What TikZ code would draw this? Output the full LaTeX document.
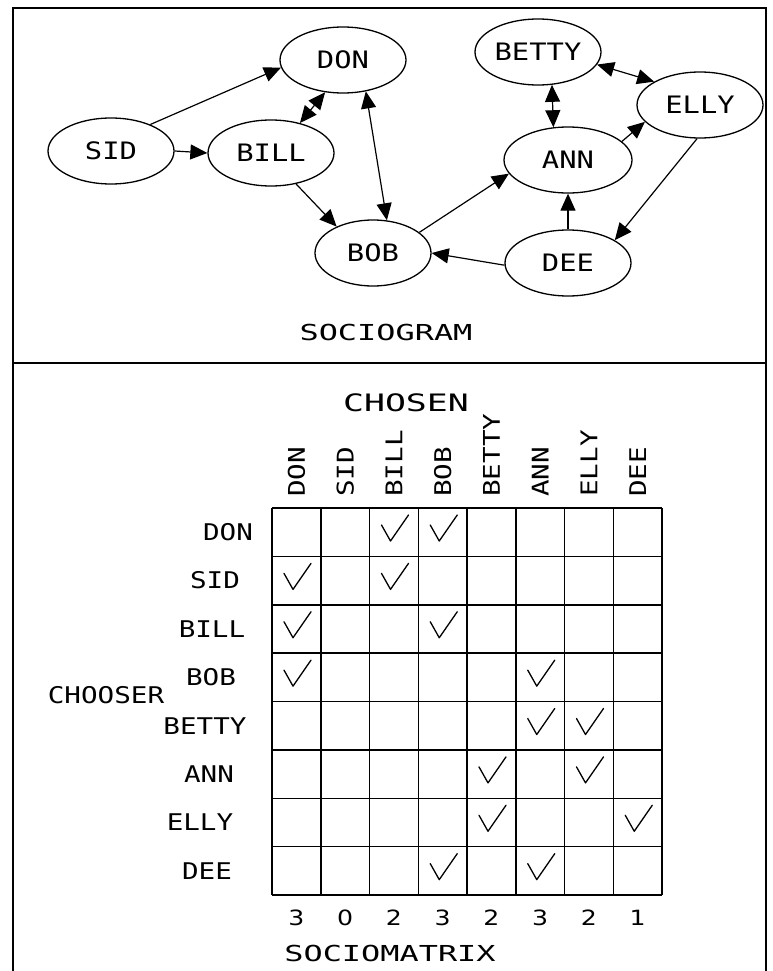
\documentclass[tikz,border=0pt]{standalone}
\usepackage{fontspec}
\usetikzlibrary{arrows.meta,shapes.geometric}
\newfontfamily\hand[FakeStretch=1.2]{DejaVu Sans Mono}
\newfontfamily\handw[FakeStretch=1.45]{DejaVu Sans Mono}
\newfontfamily\digits[FakeStretch=1.2]{DejaVu Sans}
\begin{document}
\begin{tikzpicture}[x=1pt,y=-1pt,
  >={Triangle[length=17pt,width=15pt]},
  person/.style={ellipse,draw,line width=1.3pt,minimum width=126pt,minimum height=66pt,inner sep=0pt,
    font=\hand\fontsize{24}{26}\selectfont},
  edge/.style={line width=1.2pt},
  frame/.style={line width=2pt},
  gridline/.style={line width=1.5pt},
  tick/.style={line width=1.3pt,line cap=round,line join=round},
  title/.style={inner sep=0pt,font=\handw\fontsize{22}{24}\selectfont},
  lab/.style={inner sep=0pt,font=\hand\fontsize{23}{25}\selectfont},
  num/.style={inner sep=0pt,font=\digits\fontsize{21}{23}\selectfont}]
\useasboundingbox (0,0) rectangle (772,971);
% frame
\draw[frame] (13,971) -- (13,8) -- (766,8) -- (766,971);
\draw[gridline] (13,363) -- (766,363);
% sociogram
\node[person] (don) at (343,60) {DON};
\node[person] (sid) at (111,151) {SID};
\node[person] (bill) at (271,153) {BILL};
\node[person,minimum width=116pt] (bob) at (373,253) {BOB};
\node[person] (betty) at (538,52) {BETTY};
\node[person] (elly) at (700,105) {ELLY};
\node[person,minimum width=128pt] (ann) at (568,160) {ANN};
\node[person] (dee) at (568,263) {DEE};
\draw[edge,->] (sid.34) -- (don.187);
\draw[edge,->] (sid.east) -- (bill.west);
\draw[edge,<->] (bill.46) -- (don.241);
\draw[edge,<->] (don.306) -- (bob.67);
\draw[edge,->] (bill.309) -- (bob.144);
\draw[edge,->] (bob.24) -- (ann.193);
\draw[edge,->] (dee.182) -- (bob.0);
\draw[edge,->] (dee.north) -- (ann.south);
\draw[edge,->] (elly.265) -- (dee.26);
\draw[edge,->] (ann.19) -- (elly.197);
\draw[edge,<->] (betty.293) -- (ann.114);
\draw[edge,<->] (betty.348) -- (elly.153);
\node[title] (sgram) at (386,332) {SOCIOGRAM};
% sociomatrix
\node[title,font=\handw\fontsize{24}{26}\selectfont] (chosen) at (406,403) {CHOSEN};
\node[lab] (chooser) at (106,695) {CHOOSER};
\foreach \i in {0,...,8}{
  \draw[gridline] ({272+48.75*\i},508) -- ({272+48.75*\i},895);
  \draw[gridline] (272,{508+48.375*\i}) -- (662,{508+48.375*\i});
}
\foreach \n [count=\c] in {DON,SID,BILL,BOB,BETTY,ANN,ELLY,DEE}{
  \node[lab,rotate=90,anchor=west] (col\c) at ({272+48.75*(\c-0.5)},497) {\n};
}
\foreach \n/\xx [count=\r] in {DON/228,SID/215,BILL/212,BOB/211,BETTY/205,ANN/209,ELLY/200,DEE/207}{
  \node[lab] (row\r) at (\xx,{508+48.375*(\r-0.5)}) {\n};
}
\foreach \s [count=\c] in {3,0,2,3,2,3,2,1}{
  \node[num] (sum\c) at ({272+48.75*(\c-0.5)},918) {\s};
}
\foreach \r/\c in {1/3,1/4,2/1,2/3,3/1,3/4,4/1,4/6,5/6,5/7,6/5,6/7,7/5,7/8,8/4,8/6}{
  \pgfmathsetmacro\xo{272+48.75*(\c-1)}
  \pgfmathsetmacro\yo{508+48.375*(\r-1)}
  \draw[tick] (\xo+12,\yo+17) -- (\xo+21,\yo+33) -- (\xo+39,\yo+7);
}
\node[title] (smatrix) at (390,953) {SOCIOMATRIX};
\end{tikzpicture}
\end{document}
